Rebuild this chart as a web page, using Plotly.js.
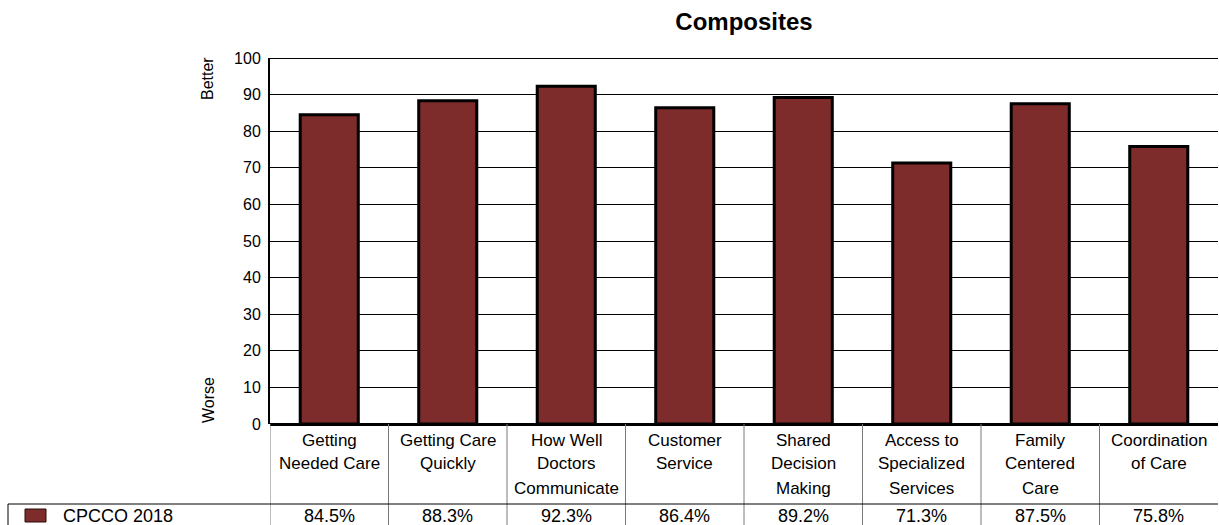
<!DOCTYPE html>
<html>
<head>
<meta charset="utf-8">
<script src="https://cdn.plot.ly/plotly-3.0.1.min.js"></script>
<style>html,body{margin:0;padding:0;background:#fff;}#chart{width:1219px;height:525px;}</style>
</head>
<body>
<div id="chart"></div>
<script>
// ---- data ----
var categories = ["Getting Needed Care", "Getting Care Quickly", "How Well Doctors Communicate", "Customer Service", "Shared Decision Making", "Access to Specialized Services", "Family Centered Care", "Coordination of Care"];
var categoryLines = [["Getting", "Needed Care"], ["Getting Care", "Quickly"], ["How Well", "Doctors", "Communicate"], ["Customer", "Service"], ["Shared", "Decision", "Making"], ["Access to", "Specialized", "Services"], ["Family", "Centered", "Care"], ["Coordination", "of Care"]];
var seriesName = "CPCCO 2018";
var values = [84.5, 88.3, 92.3, 86.4, 89.2, 71.3, 87.5, 75.8];
var yTicks = [0, 10, 20, 30, 40, 50, 60, 70, 80, 90, 100];
var titleText = "Composites";
var betterLabel = "Better";
var worseLabel = "Worse";

// ---- geometry helpers (pixel -> paper) ----
var W = 1219, H = 525;
var L = 270, R = 1218, T = 58, B = 424;
function xp(px) { return (px - L) / (R - L); }
function yp(py) { return (B - py) / (B - T); }

var barColor = "#7e2b2b";
var FONT = "Liberation Sans, Arial, sans-serif";

var trace = {
  type: "bar",
  x: categories,
  y: values,
  name: seriesName,
  width: 0.49,
  marker: { color: barColor, line: { color: "#000", width: 3 } },
  hoverinfo: "x+y",
  showlegend: false
};

var annotations = [];
var shapes = [];

// category labels (table header row)
categoryLines.forEach(function (lines, i) {
  lines.forEach(function (t, j) {
    annotations.push({
      xref: "x", yref: "paper", x: categories[i], y: yp(440 + 24 * j),
      text: t, showarrow: false, xanchor: "center", yanchor: "middle",
      font: { family: FONT, size: 17, color: "#000" }
    });
  });
});
// value row
values.forEach(function (v, i) {
  annotations.push({
    xref: "x", yref: "paper", x: categories[i], y: yp(516),
    text: v.toFixed(1) + "%", showarrow: false, xanchor: "center", yanchor: "middle",
    font: { family: FONT, size: 18, color: "#000" }
  });
});
// legend label
annotations.push({
  xref: "paper", yref: "paper", x: xp(61), y: yp(516), text: seriesName,
  showarrow: false, xanchor: "left", yanchor: "middle",
  font: { family: FONT, size: 18, color: "#000" }
});
// Better / Worse
annotations.push({
  xref: "paper", yref: "paper", x: xp(208), y: yp(79), text: betterLabel, textangle: -90,
  showarrow: false, xanchor: "center", yanchor: "middle",
  font: { family: FONT, size: 16, color: "#000" }
});
annotations.push({
  xref: "paper", yref: "paper", x: xp(208), y: yp(400), text: worseLabel, textangle: -90,
  showarrow: false, xanchor: "center", yanchor: "middle",
  font: { family: FONT, size: 16, color: "#000" }
});

// vertical table dividers at category boundaries
for (var k = 0; k < categories.length; k++) {
  shapes.push({
    type: "line", xref: "x", yref: "paper", x0: k - 0.5, x1: k - 0.5, y0: 0, y1: yp(526),
    line: { color: "#7a7a7a", width: 1 }
  });
}
// horizontal line above value row
shapes.push({
  type: "line", xref: "paper", yref: "paper", x0: xp(8), x1: 1, y0: yp(504), y1: yp(504),
  line: { color: "#000", width: 1 }
});
// legend cell left edge
shapes.push({
  type: "line", xref: "paper", yref: "paper", x0: xp(8), x1: xp(8), y0: yp(504), y1: yp(526),
  line: { color: "#000", width: 1 }
});
// legend swatch
shapes.push({
  type: "rect", xref: "paper", yref: "paper", x0: xp(25), x1: xp(46), y0: yp(509), y1: yp(522),
  fillcolor: barColor, line: { color: "#2a0d0d", width: 1 }
});
// top border at 100
shapes.push({
  type: "line", xref: "paper", yref: "y", x0: 0, x1: 1, y0: 100, y1: 100,
  line: { color: "#000", width: 2 }
});

var layout = {
  width: W, height: H,
  margin: { l: L, r: W - R, t: T, b: H - B, pad: 0 },
  paper_bgcolor: "#fff", plot_bgcolor: "#fff",
  title: {
    text: "<b>" + titleText + "</b>", x: 0.5 * (L + R) / W, xanchor: "center",
    y: 1 - 22 / H, yanchor: "middle",
    font: { family: FONT, size: 24, color: "#000" }
  },
  font: { family: FONT, color: "#000" },
  xaxis: {
    type: "category", range: [-0.5, categories.length - 0.5],
    showticklabels: false, showgrid: false, zeroline: false,
    showline: false, ticks: "", fixedrange: true
  },
  yaxis: {
    range: [0, 100], tickvals: yTicks, ticktext: yTicks.map(String),
    showgrid: true, gridcolor: "#000", gridwidth: 1,
    zeroline: true, zerolinecolor: "#000", zerolinewidth: 3,
    showline: true, linecolor: "#000", linewidth: 2,
    ticks: "", ticklabelstandoff: 4,
    tickfont: { family: FONT, size: 16, color: "#000" }, fixedrange: true
  },
  bargap: 0.5,
  showlegend: false,
  annotations: annotations,
  shapes: shapes
};

Plotly.newPlot("chart", [trace], layout, { displayModeBar: false, staticPlot: true });
</script>
</body>
</html>
